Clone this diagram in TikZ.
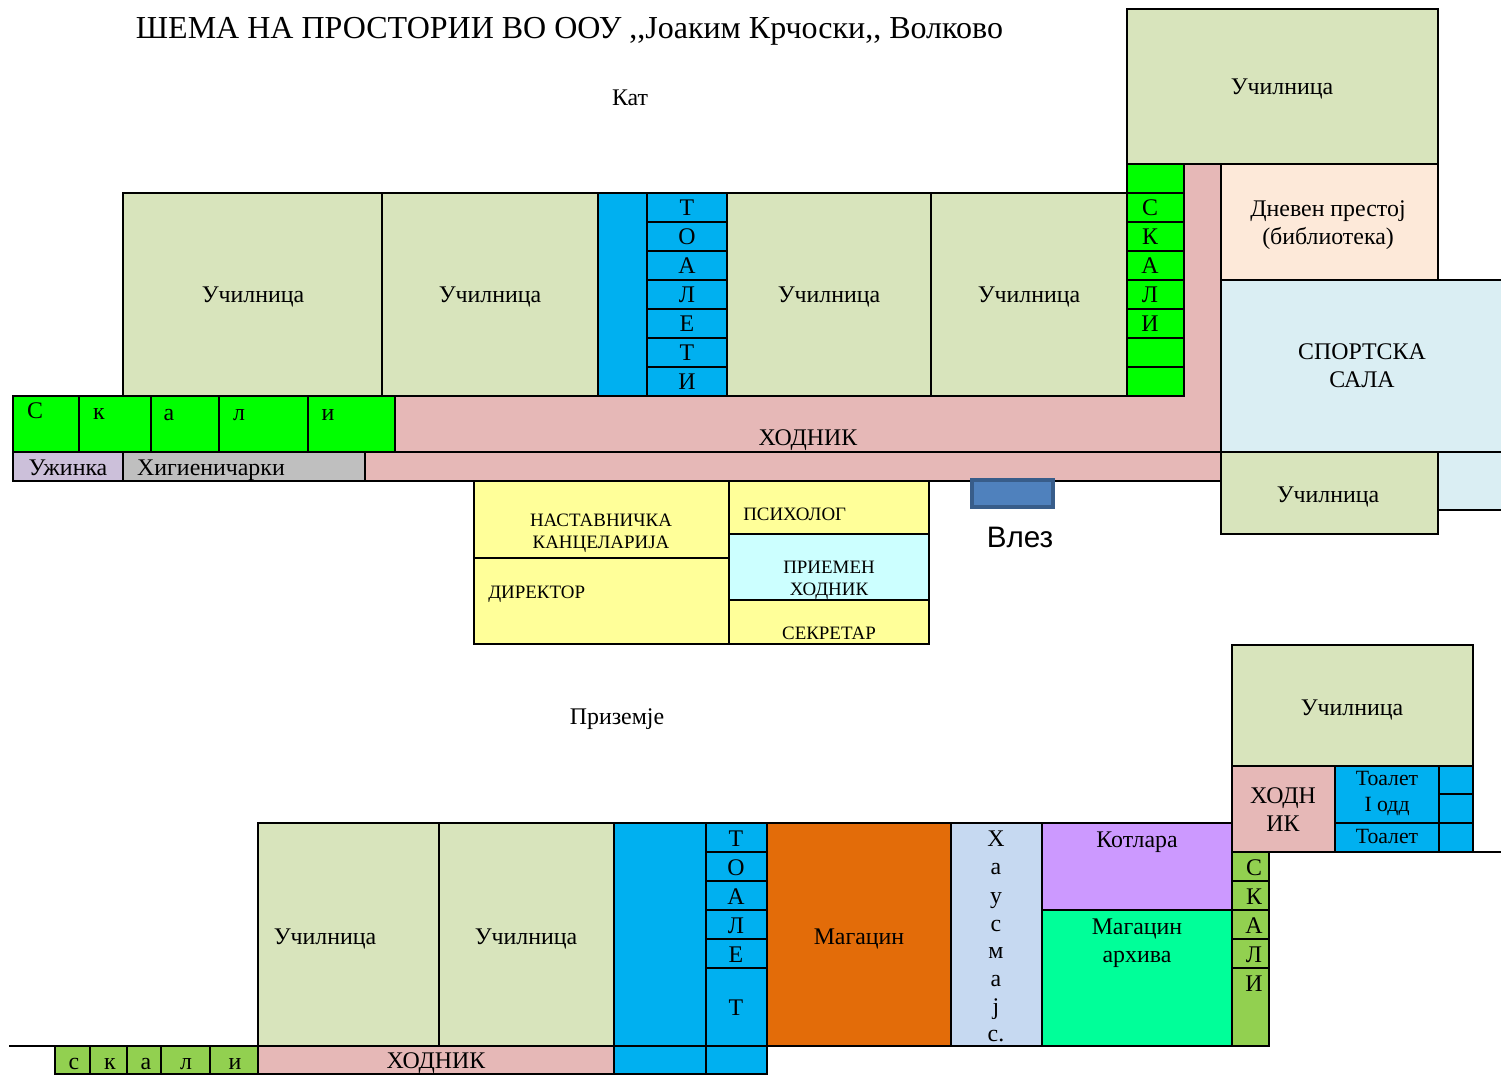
\documentclass[tikz,border=0pt]{standalone}
\usepackage{fontspec}
\setmainfont{Liberation Serif}
\newfontfamily\sansfont{Liberation Sans}
\definecolor{classgreen}{HTML}{D8E4BC}
\definecolor{stairgreen}{HTML}{00FF00}
\definecolor{oldgreen}{HTML}{92D050}
\definecolor{hallpink}{HTML}{E6B8B7}
\definecolor{wcblue}{HTML}{00B0F0}
\definecolor{lilac}{HTML}{CCC0DA}
\definecolor{peach}{HTML}{FDE9D9}
\definecolor{palesky}{HTML}{DAEEF3}
\definecolor{officeyellow}{HTML}{FFFF99}
\definecolor{paleaqua}{HTML}{CCFFFF}
\definecolor{doorblue}{HTML}{4F81BD}
\definecolor{doorline}{HTML}{385D8A}
\definecolor{boiler}{HTML}{CC99FF}
\definecolor{archive}{HTML}{00FF99}
\definecolor{storeorange}{HTML}{E36C09}
\definecolor{yardblue}{HTML}{C6D9F1}

\begin{document}
\begin{tikzpicture}[x=0.75pt,y=-0.75pt]
  \tikzstyle{room}=[draw=black,line width=1.5pt]
  \tikzstyle{wall}=[draw=black,line width=1.5pt]
  \tikzstyle{lbl}=[inner sep=0pt,text=black,font=\fontsize{17.9}{21}\selectfont,text height=13pt,text depth=1pt]
  \tikzstyle{small}=[lbl,font=\fontsize{14.2}{17}\selectfont,text height=10.5pt,text depth=1pt]
  \tikzstyle{wclbl}=[lbl,font=\fontsize{16.3}{19}\selectfont,text height=12pt,text depth=1pt]

  \useasboundingbox (0,0) rectangle (1501,1075);

  % kat
  \node[lbl,font=\fontsize{24}{28}\selectfont,text height=17pt] (title) at (569.5,28) {ШЕМА НА ПРОСТОРИИ ВО ООУ ,\kern0pt,Јоаким Крчоски,\kern0pt, Волково};
  \node[lbl] (kat) at (630,97) {Кат};

  \fill[hallpink] (1184,164) -- (1221,164) -- (1221,481) -- (365,481) -- (365,452) -- (395,452) -- (395,396) -- (1184,396) -- cycle;
  \draw[wall] (1184,164) -- (1184,396);
  \draw[wall] (1221,164) -- (1221,534);
  \draw[wall] (13,396) -- (1184,396);
  \draw[wall] (13,481) -- (1221,481);

  \draw[room,fill=classgreen] (1127,9) rectangle (1438,164);
  \draw[room,fill=classgreen] (123,193) rectangle (382,396);
  \draw[room,fill=classgreen] (382,193) rectangle (598,396);
  \draw[room,fill=wcblue] (598,193) rectangle (647,396);
  \draw[room,fill=wcblue] (647,193) rectangle (727,222);
  \draw[room,fill=wcblue] (647,222) rectangle (727,251);
  \draw[room,fill=wcblue] (647,251) rectangle (727,280);
  \draw[room,fill=wcblue] (647,280) rectangle (727,309);
  \draw[room,fill=wcblue] (647,309) rectangle (727,338);
  \draw[room,fill=wcblue] (647,338) rectangle (727,367);
  \draw[room,fill=wcblue] (647,367) rectangle (727,396);
  \draw[room,fill=classgreen] (727,193) rectangle (931,396);
  \draw[room,fill=classgreen] (931,193) rectangle (1127,396);

  \draw[room,fill=stairgreen] (1127,164) rectangle (1184,193);
  \draw[room,fill=stairgreen] (1127,193) rectangle (1184,222);
  \draw[room,fill=stairgreen] (1127,222) rectangle (1184,251);
  \draw[room,fill=stairgreen] (1127,251) rectangle (1184,280);
  \draw[room,fill=stairgreen] (1127,280) rectangle (1184,309);
  \draw[room,fill=stairgreen] (1127,309) rectangle (1184,338);
  \draw[room,fill=stairgreen] (1127,338) rectangle (1184,367);
  \draw[room,fill=stairgreen] (1127,367) rectangle (1184,396);

  \draw[room,fill=stairgreen] (13,396) rectangle (79,452);
  \draw[room,fill=stairgreen] (79,396) rectangle (151,452);
  \draw[room,fill=stairgreen] (151,396) rectangle (219,452);
  \draw[room,fill=stairgreen] (219,396) rectangle (308,452);
  \draw[room,fill=stairgreen] (308,396) rectangle (395,452);
  \draw[room,fill=lilac] (13,452) rectangle (123,481);
  \draw[room,fill=black!25] (123,452) rectangle (365,481);

  \draw[room,fill=peach] (1221,164) rectangle (1438,280);
  \fill[palesky] (1221,280) rectangle (1501,452);
  \fill[palesky] (1438,452) rectangle (1501,510);
  \draw[wall] (1221,280) -- (1501,280);
  \draw[wall] (1221,280) -- (1221,452);
  \draw[wall] (13,452) -- (1501,452);
  \draw[wall] (1438,510) -- (1501,510);
  \draw[room,fill=classgreen] (1221,452) rectangle (1438,534);

  \draw[room,fill=officeyellow] (474,481) rectangle (729,558);
  \draw[room,fill=officeyellow] (474,558) rectangle (729,644);
  \draw[room,fill=officeyellow] (729,481) rectangle (929,534);
  \draw[room,fill=paleaqua] (729,534) rectangle (929,600);
  \draw[room,fill=officeyellow] (729,600) rectangle (929,644);
  \draw[draw=doorline,line width=2.6pt,fill=doorblue] (972,480) rectangle (1053,507);

  \node[lbl] (C1) at (1282,86) {Училница};
  \node[lbl] (C2) at (253,294) {Училница};
  \node[lbl] (C3) at (490,294) {Училница};
  \node[lbl] (C4) at (829,294) {Училница};
  \node[lbl] (C5) at (1029,294) {Училница};
  \node[lbl] (C6) at (1328,494) {Училница};
  \node[lbl] (W1) at (687,207) {Т};
  \node[lbl] (W2) at (687,236) {О};
  \node[lbl] (W3) at (687,265) {А};
  \node[lbl] (W4) at (687,294) {Л};
  \node[lbl] (W5) at (687,323) {Е};
  \node[lbl] (W6) at (687,352) {Т};
  \node[lbl] (W7) at (687,381) {И};
  \node[lbl] (S1) at (1150,207) {С};
  \node[lbl] (S2) at (1150,236) {К};
  \node[lbl] (S3) at (1150,265) {А};
  \node[lbl] (S4) at (1150,294) {Л};
  \node[lbl] (S5) at (1150,323) {И};
  \node[lbl] (L1) at (35,410) {С};
  \node[lbl] (L2) at (99,411) {к};
  \node[lbl] (L3) at (169,412) {а};
  \node[lbl] (L4) at (239,412) {л};
  \node[lbl] (L5) at (328,412) {и};
  \node[lbl] (snack) at (68,467) {Ужинка};
  \node[lbl] (cleaners) at (211,467) {Хигиеничарки};
  \node[lbl] (hall) at (808,437) {ХОДНИК};
  \node[lbl] (lib1) at (1328,208) {Дневен престој};
  \node[lbl] (lib2) at (1328,236) {(библиотека)};
  \node[lbl] (gym1) at (1362,351) {СПОРТСКА};
  \node[lbl] (gym2) at (1362,379) {САЛА};
  \node[small] (staff1) at (601,520) {НАСТАВНИЧКА};
  \node[small] (staff2) at (601,542) {КАНЦЕЛАРИЈА};
  \node[small,anchor=west] (head) at (488,592) {ДИРЕКТОР};
  \node[small,anchor=west] (psy) at (743,514) {ПСИХОЛОГ};
  \node[small] (lobby1) at (829,567) {ПРИЕМЕН};
  \node[small] (lobby2) at (829,589) {ХОДНИК};
  \node[small] (sec) at (829,633) {СЕКРЕТАР};
  \node[lbl,font=\sansfont\fontsize{22.2}{26}\selectfont,text height=16pt,text depth=0pt] (entry) at (1020,537) {Влез};

  % prizemje
  \node[lbl] (ground) at (617,716) {Приземје};

  \draw[room,fill=classgreen] (1232,645) rectangle (1473,766);
  \draw[room,fill=hallpink] (1232,766) rectangle (1335,852);
  \draw[room,fill=wcblue] (1335,766) rectangle (1439,823);
  \draw[room,fill=wcblue] (1335,823) rectangle (1439,852);
  \draw[room,fill=wcblue] (1439,766) rectangle (1473,794);
  \draw[room,fill=wcblue] (1439,794) rectangle (1473,823);
  \draw[room,fill=wcblue] (1439,823) rectangle (1473,852);
  \draw[wall] (1232,852) -- (1501,852);

  \draw[room,fill=classgreen] (258,823) rectangle (439,1046);
  \draw[room,fill=classgreen] (439,823) rectangle (614,1046);
  \draw[room,fill=wcblue] (614,823) rectangle (706,1046);
  \draw[room,fill=wcblue] (706,823) rectangle (767,852);
  \draw[room,fill=wcblue] (706,852) rectangle (767,881);
  \draw[room,fill=wcblue] (706,881) rectangle (767,910);
  \draw[room,fill=wcblue] (706,910) rectangle (767,939);
  \draw[room,fill=wcblue] (706,939) rectangle (767,968);
  \draw[room,fill=wcblue] (706,968) rectangle (767,1046);
  \draw[room,fill=storeorange] (767,823) rectangle (951,1046);
  \draw[room,fill=yardblue] (951,823) rectangle (1042,1046);
  \draw[room,fill=boiler] (1042,823) rectangle (1232,910);
  \draw[room,fill=archive] (1042,910) rectangle (1232,1046);

  \draw[room,fill=oldgreen] (1232,852) rectangle (1269,881);
  \draw[room,fill=oldgreen] (1232,881) rectangle (1269,910);
  \draw[room,fill=oldgreen] (1232,910) rectangle (1269,939);
  \draw[room,fill=oldgreen] (1232,939) rectangle (1269,968);
  \draw[room,fill=oldgreen] (1232,968) rectangle (1269,1046);

  \draw[room,fill=oldgreen] (55,1046) rectangle (90,1074);
  \draw[room,fill=oldgreen] (90,1046) rectangle (127,1074);
  \draw[room,fill=oldgreen] (127,1046) rectangle (161,1074);
  \draw[room,fill=oldgreen] (161,1046) rectangle (210,1074);
  \draw[room,fill=oldgreen] (210,1046) rectangle (258,1074);
  \draw[room,fill=hallpink] (258,1046) rectangle (614,1074);
  \draw[room,fill=wcblue] (614,1046) rectangle (706,1074);
  \draw[room,fill=wcblue] (706,1046) rectangle (767,1074);
  \draw[wall] (9,1046) -- (1269,1046);

  \node[lbl] (G1) at (1352,707) {Училница};
  \node[lbl] (G2) at (325,936) {Училница};
  \node[lbl] (G3) at (526,936) {Училница};
  \node[lbl] (up1) at (1283,795) {ХОДН};
  \node[lbl] (up2) at (1283,823) {ИК};
  \node[wclbl] (wc1) at (1387,778) {Тоалет};
  \node[wclbl] (wc2) at (1387,804) {I одд};
  \node[wclbl] (wc3) at (1387,836) {Тоалет};
  \node[lbl] (T1) at (736,838) {Т};
  \node[lbl] (T2) at (736,867) {О};
  \node[lbl] (T3) at (736,896) {А};
  \node[lbl] (T4) at (736,925) {Л};
  \node[lbl] (T5) at (736,954) {Е};
  \node[lbl] (T6) at (736,1007) {Т};
  \node[lbl] (store) at (859,936) {Магацин};
  \node[lbl] (H1) at (996,838) {Х};
  \node[lbl] (H2) at (996,866) {а};
  \node[lbl] (H3) at (996,895) {у};
  \node[lbl] (H4) at (996,923) {с};
  \node[lbl] (H5) at (996,950) {м};
  \node[lbl] (H6) at (996,978) {а};
  \node[lbl] (H7) at (996,1006) {ј};
  \node[lbl] (H8) at (996,1033) {с.};
  \node[lbl] (boil) at (1137,839) {Котлара};
  \node[lbl] (arch1) at (1137,926) {Магацин};
  \node[lbl] (arch2) at (1137,954) {архива};
  \node[lbl] (R1) at (1254,867) {С};
  \node[lbl] (R2) at (1254,896) {К};
  \node[lbl] (R3) at (1254,925) {А};
  \node[lbl] (R4) at (1254,954) {Л};
  \node[lbl] (R5) at (1254,983) {И};
  \node[lbl] (B1) at (74,1061) {с};
  \node[lbl] (B2) at (110,1061) {к};
  \node[lbl] (B3) at (146,1061) {а};
  \node[lbl] (B4) at (186,1061) {л};
  \node[lbl] (B5) at (235,1061) {и};
  \node[lbl] (hall2) at (436,1060) {ХОДНИК};
\end{tikzpicture}
\end{document}
